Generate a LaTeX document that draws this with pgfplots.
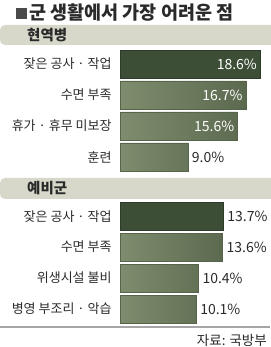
\documentclass[border=0pt]{standalone}
\usepackage{pgfplots}
\pgfplotsset{compat=1.18}
\usepackage{fontspec}
\setmainfont{Noto Sans CJK KR}
\definecolor{darkbar}{HTML}{3D4E37}
\definecolor{darkedge}{HTML}{2E3B2A}
\definecolor{lightL}{HTML}{7E8D6D}
\definecolor{lightR}{HTML}{5B6A4F}
\definecolor{lightedge}{HTML}{56644A}
\definecolor{band}{HTML}{D7D8CA}
\definecolor{txt}{HTML}{2A2A2A}
\definecolor{rule}{HTML}{A5A5A5}
\begin{document}
\begin{tikzpicture}
\begin{axis}[
  scale only axis, width=270pt, height=347pt,
  xmin=-15.936, xmax=19.920, ymin=0, ymax=347, y dir=reverse,
  axis line style={draw=none}, tick style={draw=none},
  xtick=\empty,
  /pgf/number format/assume math mode=true,
  xbar, bar shift=0pt, bar width=28,
  ytick={64,95,126,157,216.5,247,278,309},
  yticklabels={잦은 공사 · 작업, 수면 부족, 휴가 · 휴무 미보장, 훈련, 잦은 공사 · 작업, 수면 부족, 위생시설 불비, 병영 부조리 · 악습},
  yticklabel style={anchor=east, xshift=116pt, inner sep=0pt, font=\fontsize{13}{14}\selectfont, text=txt},
  point meta=x,
  nodes near coords={\pgfmathprintnumber[fixed,fixed zerofill,precision=1,assume math mode=true]{\pgfplotspointmeta}\%},
  every node near coord/.append style={font=\fontsize{14}{16}\selectfont},
]
% dark, label inside
\addplot[fill=darkbar, draw=darkedge,
  nodes near coords style={anchor=east, text=white, xshift=-3pt, inner sep=0pt}]
  coordinates {(18.6,64)};
% dark, label outside
\addplot[fill=darkbar, draw=darkedge,
  nodes near coords style={anchor=west, text=txt, xshift=4pt, inner sep=0pt}]
  coordinates {(13.7,216.5)};
% light, label inside
\addplot[left color=lightL, right color=lightR, draw=lightedge,
  nodes near coords style={anchor=east, text=white, xshift=-3pt, inner sep=0pt}]
  coordinates {(16.7,95) (15.6,126)};
% light, label outside
\addplot[left color=lightL, right color=lightR, draw=lightedge,
  nodes near coords style={anchor=west, text=txt, xshift=4pt, inner sep=0pt}]
  coordinates {(9.0,157) (13.6,247) (10.4,278) (10.1,309)};
\end{axis}
% decorations (1pt = 1px, y measured from bottom)
\fill[txt!85] (16pt,328pt) rectangle (27pt,339pt);
\node[anchor=base west, inner sep=0pt, text=txt, font=\fontsize{18.5}{20}\selectfont\bfseries] at (29pt,327pt) {군 생활에서 가장 어려운 점};
\fill[band, rounded corners=5pt] (0pt,322pt) rectangle (280pt,302pt);
\node[anchor=west, inner sep=0pt, text=txt, font=\fontsize{14.5}{16}\selectfont\bfseries] at (27pt,312pt) {현역병};
\fill[band, rounded corners=5pt] (0pt,169pt) rectangle (280pt,148pt);
\node[anchor=west, inner sep=0pt, text=txt, font=\fontsize{14.5}{16}\selectfont\bfseries] at (27pt,158.5pt) {예비군};
\draw[rule, line width=1.5pt] (0pt,20pt) -- (270pt,20pt);
\node[anchor=east, inner sep=0pt, text=txt, font=\fontsize{13.5}{15}\selectfont] at (267pt,6.5pt) {자료: 국방부};
\pgfresetboundingbox
\path (0pt,0pt) rectangle (270pt,347pt);
\end{tikzpicture}
\end{document}
